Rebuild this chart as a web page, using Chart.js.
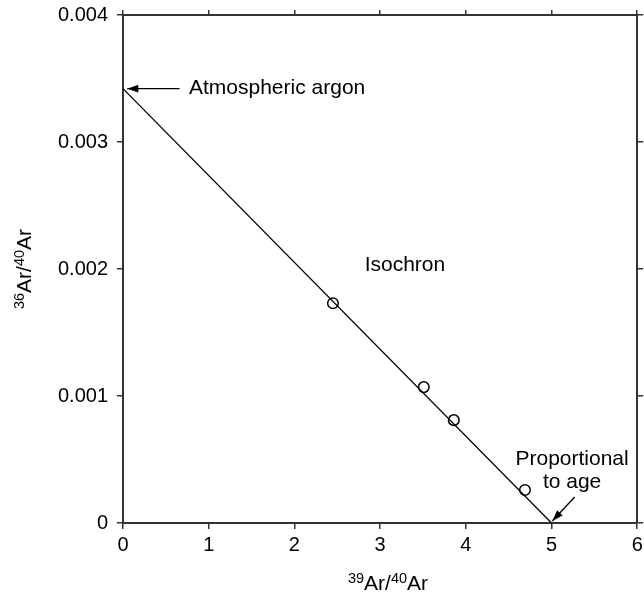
<!DOCTYPE html>
<html><head><meta charset="utf-8">
<script src="https://cdn.jsdelivr.net/npm/chart.js@4/dist/chart.umd.min.js"></script>
<style>html,body{margin:0;padding:0;background:#fff;overflow:hidden}#wrap{width:644px;height:595px;position:relative}</style>
</head><body><div id="wrap"><canvas id="c" width="644" height="595"></canvas></div>
<script>
const xTicks = [0, 1, 2, 3, 4, 5, 6];
const yTicks = [0, 0.001, 0.002, 0.003, 0.004];
const xTickLabels = ['0', '1', '2', '3', '4', '5', '6'];
const yTickLabels = ['0', '0.001', '0.002', '0.003', '0.004'];
const sampleX = [2.45, 3.51, 3.86, 4.69];
const sampleY = [0.00173, 0.00107, 0.00081, 0.00026];
const isochronX = [0, 5];
const isochronY = [0.00342, 0];
const xTitleParts = [{t:'39', sup:true}, {t:'Ar/'}, {t:'40', sup:true}, {t:'Ar'}];
const yTitleParts = [{t:'36', sup:true}, {t:'Ar/'}, {t:'40', sup:true}, {t:'Ar'}];

const FONT = '"Liberation Sans", Arial, Helvetica, sans-serif';
const MAIN = 20, ANN = 21, SUP = 14.5;
const AX = '#333';

function drawRich(ctx, parts, cx, cy) {
  let w = 0;
  parts.forEach(p => { ctx.font = (p.sup ? SUP : ANN) + 'px ' + FONT; p.w = ctx.measureText(p.t).width; w += p.w; });
  let x = cx - w / 2;
  ctx.textAlign = 'left'; ctx.textBaseline = 'alphabetic';
  parts.forEach(p => {
    ctx.font = (p.sup ? SUP : ANN) + 'px ' + FONT;
    ctx.fillText(p.t, x, cy + 7 - (p.sup ? 7.5 : 0));
    x += p.w;
  });
}
function arrow(ctx, x1, y1, x2, y2) {
  ctx.beginPath(); ctx.moveTo(x1, y1); ctx.lineTo(x2, y2);
  ctx.lineWidth = 1.3; ctx.strokeStyle = '#000'; ctx.stroke();
  const a = Math.atan2(y2 - y1, x2 - x1), L = 11, H = 3.8;
  ctx.beginPath();
  ctx.moveTo(x2, y2);
  ctx.lineTo(x2 - L * Math.cos(a) + H * Math.sin(a), y2 - L * Math.sin(a) - H * Math.cos(a));
  ctx.lineTo(x2 - L * Math.cos(a) - H * Math.sin(a), y2 - L * Math.sin(a) + H * Math.cos(a));
  ctx.closePath(); ctx.fillStyle = '#000'; ctx.fill();
}

const annot = {
  id: 'annot',
  afterDraw(chart) {
    const ctx = chart.ctx, xs = chart.scales.x, ys = chart.scales.y;
    const px = v => xs.getPixelForValue(v), py = v => ys.getPixelForValue(v);
    ctx.save();
    ctx.fillStyle = '#000';
    ctx.font = ANN + 'px ' + FONT;
    ctx.textBaseline = 'middle';
    ctx.textAlign = 'left';
    ctx.fillText('Atmospheric argon', px(0.77), py(0.00342));
    arrow(ctx, px(0.66), py(0.00342), px(0.05), py(0.00342));
    ctx.textAlign = 'center';
    ctx.fillText('Isochron', px(3.29), py(0.00203));
    ctx.fillText('Proportional', px(5.24), py(0.000504));
    ctx.fillText('to age', px(5.24), py(0.000323));
    arrow(ctx, px(5.27), py(0.000205), px(5.01), py(0.000016));
    // axis titles
    drawRich(ctx, xTitleParts, 388, 583);
    ctx.save();
    ctx.translate(24, (chart.chartArea.top + chart.chartArea.bottom) / 2);
    ctx.rotate(-Math.PI / 2);
    drawRich(ctx, yTitleParts, 0, 0);
    ctx.restore();
    ctx.restore();
  }
};

function gridOpts(len) {
  return { drawOnChartArea: false, drawTicks: true, tickLength: len, color: AX, lineWidth: 1.5 };
}
const border = { display: true, color: AX, width: 2 };

new Chart(document.getElementById('c'), {
  type: 'scatter',
  data: {
    datasets: [
      {
        data: isochronX.map((x, i) => ({ x, y: isochronY[i] })),
        showLine: true, pointRadius: 0, borderColor: '#000', borderWidth: 1.3, order: 2
      },
      {
        data: sampleX.map((x, i) => ({ x, y: sampleY[i] })),
        showLine: false, pointRadius: 5.3, pointBorderWidth: 1.5,
        pointBackgroundColor: 'rgba(255,255,255,0)', pointBorderColor: '#000', order: 1
      }
    ]
  },
  options: {
    responsive: false, animation: false, devicePixelRatio: 1,
    layout: { padding: 0 },
    plugins: { legend: { display: false }, tooltip: { enabled: false } },
    scales: {
      x: {
        type: 'linear', position: 'bottom', min: 0, max: 6,
        afterBuildTicks: s => { s.ticks = xTicks.map(v => ({ value: v })); },
        ticks: { callback: (v, i) => xTickLabels[i], color: '#000', font: { family: FONT, size: MAIN }, padding: 4, maxRotation: 0 },
        grid: gridOpts(6), border,
        afterFit: s => { s.height = 72; s.paddingLeft = 0; s.paddingRight = 0; }
      },
      x2: {
        type: 'linear', position: 'top', min: 0, max: 6,
        afterBuildTicks: s => { s.ticks = xTicks.map(v => ({ value: v })); },
        ticks: { display: false },
        grid: gridOpts(5), border,
        afterFit: s => { s.height = 15; s.paddingLeft = 0; s.paddingRight = 0; }
      },
      y: {
        type: 'linear', position: 'left', min: 0, max: 0.004,
        afterBuildTicks: s => { s.ticks = yTicks.map(v => ({ value: v })); },
        ticks: { callback: (v, i) => yTickLabels[i], color: '#000', font: { family: FONT, size: MAIN }, padding: 9 },
        grid: gridOpts(6), border,
        afterFit: s => { s.width = 123; s.paddingTop = 0; s.paddingBottom = 0; }
      },
      y2: {
        type: 'linear', position: 'right', min: 0, max: 0.004,
        afterBuildTicks: s => { s.ticks = yTicks.map(v => ({ value: v })); },
        ticks: { display: false },
        grid: gridOpts(6), border,
        afterFit: s => { s.width = 6; s.paddingTop = 0; s.paddingBottom = 0; }
      }
    }
  },
  plugins: [annot]
});
</script>
</body></html>
